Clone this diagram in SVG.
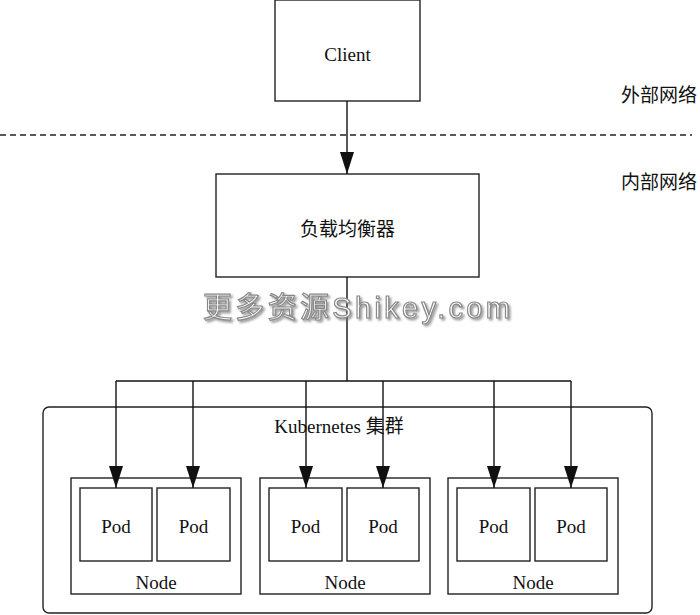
<svg xmlns="http://www.w3.org/2000/svg" width="700" height="615" viewBox="0 0 700 615">
<style>
.box{fill:#fff;stroke:#222;stroke-width:1.4}
.ln{fill:none;stroke:#111;stroke-width:1.4}
.t{font-family:"Liberation Serif","Noto Sans CJK SC",serif;font-size:19px;fill:#111;text-anchor:middle}
.wm{font-family:"Liberation Sans","Noto Sans CJK SC",sans-serif;font-size:29px;fill:#fff;stroke:#888;stroke-width:1.2}
</style>
<defs>
<marker id="ah" markerUnits="userSpaceOnUse" markerWidth="22" markerHeight="14" refX="22" refY="7" orient="auto">
<path d="M0,0 L22,7 L0,14 z" fill="#111"/>
</marker>
<filter id="sh" x="-10%" y="-30%" width="120%" height="160%">
<feDropShadow dx="2" dy="2" stdDeviation="1" flood-color="#777" flood-opacity="0.7"/>
</filter>
</defs>
<rect width="700" height="615" fill="#fff"/>
<line x1="0" y1="135" x2="692" y2="135" stroke="#222" stroke-width="1.3" stroke-dasharray="6,4"/>
<text class="t" x="659" y="102">外部网络</text>
<text class="t" x="659" y="189">内部网络</text>
<g id="cluster">
<rect class="box" x="43" y="407" width="609" height="206" rx="6"/>
<text class="t" x="339" y="433">Kubernetes 集群</text>
</g>
<g id="client">
<rect class="box" x="275" y="0" width="145" height="101"/>
<text class="t" x="347.5" y="61">Client</text>
</g>
<g id="lb">
<rect class="box" x="216" y="174" width="263" height="103"/>
<text class="t" x="347.5" y="236">负载均衡器</text>
</g>
<g id="node1">
<rect class="box" x="71" y="478" width="170" height="116"/>
<text class="t" x="156" y="589">Node</text>
<g id="pod1a"><rect class="box" x="80" y="488" width="72" height="73"/><text class="t" x="116" y="533">Pod</text></g>
<g id="pod1b"><rect class="box" x="157" y="488" width="73" height="73"/><text class="t" x="193.5" y="533">Pod</text></g>
</g>
<g id="node2">
<rect class="box" x="260" y="478" width="170" height="116"/>
<text class="t" x="345" y="589">Node</text>
<g id="pod2a"><rect class="box" x="269" y="488" width="73" height="73"/><text class="t" x="305.5" y="533">Pod</text></g>
<g id="pod2b"><rect class="box" x="347" y="488" width="72" height="73"/><text class="t" x="383" y="533">Pod</text></g>
</g>
<g id="node3">
<rect class="box" x="448" y="478" width="170" height="116"/>
<text class="t" x="533" y="589">Node</text>
<g id="pod3a"><rect class="box" x="457" y="488" width="73" height="73"/><text class="t" x="493.5" y="533">Pod</text></g>
<g id="pod3b"><rect class="box" x="535" y="488" width="72" height="73"/><text class="t" x="571" y="533">Pod</text></g>
</g>
<g id="connectors">
<line class="ln" x1="347" y1="101" x2="347" y2="174" marker-end="url(#ah)"/>
<polyline class="ln" points="347,277 347,381"/>
<polyline class="ln" points="116,381 571,381"/>
<line class="ln" x1="116" y1="381" x2="116" y2="488" marker-end="url(#ah)"/>
<line class="ln" x1="193" y1="381" x2="193" y2="488" marker-end="url(#ah)"/>
<line class="ln" x1="306" y1="381" x2="306" y2="488" marker-end="url(#ah)"/>
<line class="ln" x1="383" y1="381" x2="383" y2="488" marker-end="url(#ah)"/>
<line class="ln" x1="494" y1="381" x2="494" y2="488" marker-end="url(#ah)"/>
<line class="ln" x1="571" y1="381" x2="571" y2="488" marker-end="url(#ah)"/>
</g>
<g id="watermark">
<text class="wm" x="203" y="318" textLength="307" filter="url(#sh)">更多资源Shikey.com</text>
</g>
</svg>
